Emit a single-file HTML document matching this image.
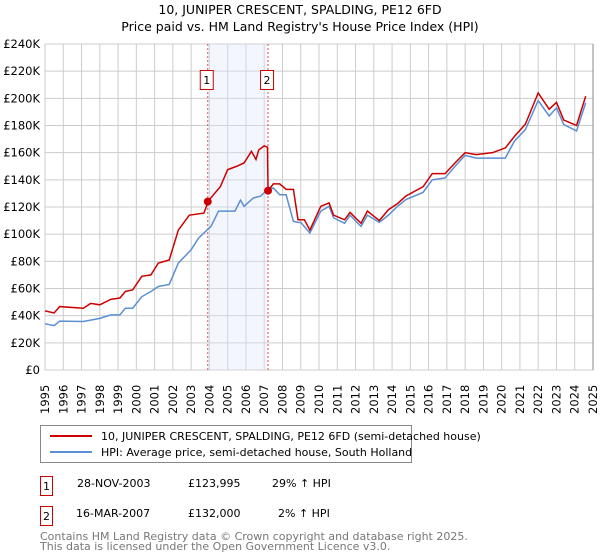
<!DOCTYPE html>
<html><head><meta charset="utf-8"><style>
body{margin:0;background:#fff;font-family:"DejaVu Sans","Liberation Sans",sans-serif;}
svg{display:block}
</style></head><body>
<svg id="chart" width="600" height="560" xmlns="http://www.w3.org/2000/svg">
<text x="300" y="14" text-anchor="middle" font-size="12.5" fill="#000">10, JUNIPER CRESCENT, SPALDING, PE12 6FD</text>
<text x="300" y="31" text-anchor="middle" font-size="12.5" fill="#000">Price paid vs. HM Land Registry's House Price Index (HPI)</text>
<g id="grid"></g>
<g id="shade"></g>
<g id="series"></g>
<g id="axes"></g>
<g id="legend">
<rect x="40.5" y="425.5" width="371" height="37" fill="#fff" stroke="#888"/>
<line x1="50" y1="436" x2="92" y2="436" stroke="#cc0000" stroke-width="2"/>
<text x="101" y="440" font-size="11" fill="#000">10, JUNIPER CRESCENT, SPALDING, PE12 6FD (semi-detached house)</text>
<line x1="50" y1="452" x2="92" y2="452" stroke="#5b8fd4" stroke-width="2"/>
<text x="101" y="456" font-size="11" fill="#000">HPI: Average price, semi-detached house, South Holland</text>
</g>
<g font-size="11" fill="#000">
<rect x="40.5" y="476.5" width="12" height="19" fill="#fff" stroke="#cc0000"/>
<text x="46.5" y="490" text-anchor="middle">1</text>
<text x="77" y="487">28-NOV-2003</text>
<text x="188" y="487">£123,995</text>
<text x="272" y="487">29% ↑ HPI</text>
<rect x="40.5" y="506.5" width="12" height="19" fill="#fff" stroke="#cc0000"/>
<text x="46.5" y="520" text-anchor="middle">2</text>
<text x="76" y="517">16-MAR-2007</text>
<text x="188" y="517">£132,000</text>
<text x="278" y="517">2% ↑ HPI</text>
</g>
<text x="40" y="540" font-size="11" fill="#777">Contains HM Land Registry data © Crown copyright and database right 2025.</text>
<text x="40" y="550" font-size="11" fill="#777">This data is licensed under the Open Government Licence v3.0.</text>
</svg>
<script>
const yTicks=[0,20000,40000,60000,80000,100000,120000,140000,160000,180000,200000,220000,240000];
const xYears=[1995,1996,1997,1998,1999,2000,2001,2002,2003,2004,2005,2006,2007,2008,2009,2010,2011,2012,2013,2014,2015,2016,2017,2018,2019,2020,2021,2022,2023,2024,2025];
const priceDates=[1995,1995.5,1995.8,1997.1,1997.5,1998.0,1998.6,1999.1,1999.4,1999.8,2000.3,2000.8,2001.2,2001.8,2002.3,2002.9,2003.7,2003.85,2003.91,2004.6,2005.0,2005.5,2005.9,2006.3,2006.55,2006.7,2007.0,2007.18,2007.21,2007.5,2007.85,2008.2,2008.6,2008.85,2009.2,2009.5,2010.1,2010.55,2010.8,2011.4,2011.7,2012.3,2012.65,2013.3,2013.8,2014.3,2014.75,2015.7,2016.2,2016.9,2017.45,2018.0,2018.6,2019.5,2020.2,2020.7,2021.3,2022.0,2022.6,2023.0,2023.4,2024.1,2024.6];
const priceValues=[43500,42000,46700,45500,49000,48000,52000,53000,57800,59000,69000,70000,78700,81000,103000,114000,115500,121000,123995,135000,147500,150000,152500,161000,155000,162000,165000,164000,132000,137000,137000,133000,133000,110600,110600,103000,120500,123000,114000,110600,116000,108000,117000,110000,118000,122500,128000,135000,144600,144600,152500,160000,158600,160000,163500,172000,181000,204000,192000,197000,184000,180000,201600];
const hpiDates=[1995,1995.5,1995.8,1997.1,1998.0,1998.6,1999.1,1999.4,1999.8,2000.3,2000.8,2001.2,2001.8,2002.3,2003.0,2003.4,2004.1,2004.5,2005.4,2005.7,2005.9,2006.4,2006.8,2007.2,2007.5,2007.85,2008.2,2008.6,2008.85,2009.0,2009.5,2010.1,2010.55,2010.8,2011.4,2011.7,2012.3,2012.65,2013.3,2013.8,2014.3,2014.75,2015.7,2016.2,2016.9,2017.45,2018.0,2018.6,2019.5,2020.2,2020.7,2021.3,2022.0,2022.6,2023.0,2023.4,2024.1,2024.6];
const hpiValues=[34000,32700,36000,35700,38000,40600,40600,45500,45500,54000,57800,61500,63000,78700,88500,97000,106000,117000,117000,125000,120500,126600,128000,133000,134000,129000,129000,109400,108700,108700,100800,117000,120500,112000,108000,114000,105700,114000,108700,114000,120500,125400,130800,140000,141400,150000,158000,156000,156000,156000,168500,177000,198400,187000,193000,180700,176000,196700];
const sales=[{label:"1",date:2003.91,value:123995},{label:"2",date:2007.21,value:132000}];

const L=45,R=593,T=44,B=370;
const x=d=>L+(d-1995)/30*(R-L);
const y=v=>B-v/240000*(B-T);
const NS="http://www.w3.org/2000/svg";
function mk(tag,attrs,parent){const e=document.createElementNS(NS,tag);for(const k in attrs)e.setAttribute(k,attrs[k]);parent.appendChild(e);return e;}
const grid=document.getElementById('grid'),axes=document.getElementById('axes'),shade=document.getElementById('shade'),series=document.getElementById('series');
mk('rect',{x:L,y:T,width:R-L,height:B-T,fill:'#fff'},grid);
yTicks.forEach(v=>{
 const l=mk('line',{x1:L,x2:R,y1:y(v),y2:y(v),stroke:'#ccc','stroke-width':1},grid);
 
 
 const t=mk('text',{x:L-5,y:y(v)+4,'text-anchor':'end','font-size':'11.5',fill:'#000'},axes);
 t.textContent=v===0?'£0':'£'+(v/1000)+'K';
 
 
});
xYears.forEach(yr=>{
 const l=mk('line',{x1:x(yr),x2:x(yr),y1:T,y2:B,stroke:'#ccc','stroke-width':1},grid);
 
 
 const t=mk('text',{transform:`translate(${x(yr)+4},${B+44}) rotate(-90)`,'font-size':'11.5',fill:'#000'},axes);
 t.textContent=yr;
 
 
});
const sh=mk('rect',{x:x(sales[0].date),y:T,width:x(sales[1].date)-x(sales[0].date),height:B-T,fill:'#dde6f8','fill-opacity':0.35},shade);


sales.forEach(s=>{
 const l=mk('line',{x1:x(s.date),x2:x(s.date),y1:T,y2:B,stroke:'#e05050','stroke-dasharray':'2,2','stroke-width':1},shade);
 
 
 const r=mk('rect',{x:x(s.date)-7.5,y:70.5,width:13,height:19,fill:'#fff',stroke:'#cc0000'},shade);
 
 
 const t=mk('text',{x:x(s.date)-1,y:84,'text-anchor':'middle','font-size':'11',fill:'#000'},shade);
 t.textContent=s.label;
 
 
});
const hp=mk('polyline',{points:hpiDates.map((d,i)=>x(d)+','+y(hpiValues[i])).join(' '),fill:'none',stroke:'#5b8fd4','stroke-width':1.5},series);


const pp=mk('polyline',{points:priceDates.map((d,i)=>x(d)+','+y(priceValues[i])).join(' '),fill:'none',stroke:'#cc0000','stroke-width':1.5},series);


sales.forEach(s=>{
 const c=mk('circle',{cx:x(s.date),cy:y(s.value),r:4,fill:'#cc0000'},series);
 
 
});
const ax=mk('line',{x1:R,x2:R,y1:T,y2:B,stroke:'#888'},axes);


</script>
</body></html>
